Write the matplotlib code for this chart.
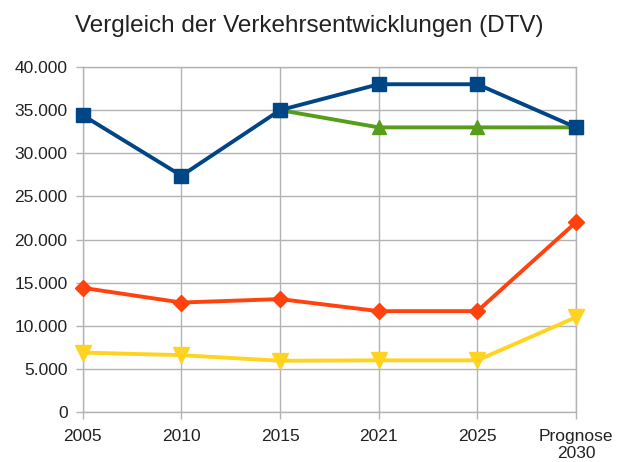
import matplotlib
matplotlib.use("Agg")
import matplotlib.pyplot as plt
import numpy as np
from matplotlib.ticker import FuncFormatter

plt.rcParams['font.family'] = ['Liberation Sans', 'DejaVu Sans']

categories = ["2005", "2010", "2015", "2021", "2025", "Prognose\n2030"]
series_blue = [34400, 27400, 35000, 38000, 38000, 33000]
series_green = [np.nan, np.nan, 35000, 33000, 33000, 33000]
series_orange = [14400, 12700, 13100, 11700, 11700, 22000]
series_yellow = [6900, 6600, 5950, 6000, 6000, 11000]

fig = plt.figure(figsize=(6.18, 4.62), dpi=100)
ax = fig.add_axes([0.134, 0.108, 0.798, 0.747])
x = np.arange(len(categories))

lw = 2.8
ax.plot(x, series_green, color="#579d1c", lw=lw, marker="^", ms=10, zorder=3, clip_on=False)
ax.plot(x, series_blue, color="#004586", lw=lw, marker="s", ms=10.5, zorder=4, clip_on=False)
ax.plot(x, series_orange, color="#ff420e", lw=lw, marker="D", ms=8, zorder=3, clip_on=False)
ax.plot(x, series_yellow, color="#ffd320", lw=lw, marker="v", ms=11, zorder=3, clip_on=False)

ax.set_xlim(0, len(categories) - 1)
ax.set_ylim(0, 40000)
ax.set_yticks(np.arange(0, 40001, 5000))
ax.yaxis.set_major_formatter(FuncFormatter(lambda v, p: f"{int(v):,}".replace(",", ".")))
ax.set_xticks(x)
ax.set_xticklabels(categories)

ax.grid(True, color="#b3b3b3", lw=1)
ax.set_axisbelow(True)
for s in ax.spines.values():
    s.set_color("#b3b3b3")
    s.set_linewidth(1)
ax.tick_params(axis="both", colors="#b3b3b3", labelcolor="#222222", labelsize=12.5, length=5, width=1)
ax.tick_params(axis="x", pad=7)
ax.tick_params(axis="y", pad=6)

fig.text(0.5, 0.943, "Vergleich der Verkehrsentwicklungen (DTV)", ha="center", va="center", fontsize=17.5, color="#222222")

fig.savefig("out.png", dpi=100)
